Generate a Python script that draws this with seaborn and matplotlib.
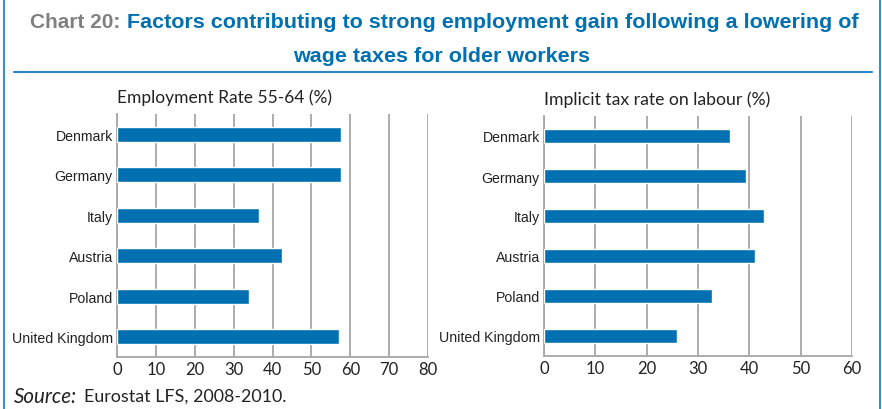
'''Chart 20: employment rate and implicit tax rate on labour for older workers'''
import pandas as pd
import seaborn as sns
import matplotlib.pyplot as plt
from matplotlib.lines import Line2D

countries = ['Denmark', 'Germany', 'Italy', 'Austria', 'Poland', 'United Kingdom']
employment_rate = [57.7, 57.7, 36.6, 42.5, 34.0, 57.2]
implicit_tax = [36.3, 39.3, 42.8, 41.2, 32.8, 26.0]

BLUE = '#0070b0'
GRID = '#a6a6a6'
NARROW = ['Liberation Sans', 'DejaVu Sans']

sns.set_style('white')
plt.rcParams['font.family'] = ['Lato', 'DejaVu Sans']

df = pd.DataFrame({'country': countries, 'emp': employment_rate, 'tax': implicit_tax})

fig = plt.figure(figsize=(8.82, 4.10), dpi=100)
W, H = 882, 410
renderer = fig.canvas.get_renderer()


def fit_width(txt, width_px):
    # shrink/grow a text so it spans the given pixel width
    w = txt.get_window_extent(renderer=renderer).width
    txt.set_fontsize(txt.get_fontsize() * width_px / w)


# axes placed in pixel terms of the 882x410 canvas
ax1 = fig.add_axes([117 / W, 1 - 358 / H, (428 - 117) / W, (358 - 115) / H])
ax2 = fig.add_axes([544 / W, 1 - 357 / H, (852 - 544) / W, (357 - 117) / H])

panels = [
    (ax1, 'emp', 'Employment Rate 55-64 (%)', 80, 214),
    (ax2, 'tax', 'Implicit tax rate on labour (%)', 60, 226),
]
for ax, col, title, xmax, tw in panels:
    sns.barplot(data=df, x=col, y='country', orient='h', color=BLUE,
                width=0.36, saturation=1, ax=ax, zorder=3)
    ax.set_xlim(0, xmax)
    ax.set_xticks(range(0, xmax + 1, 10))
    ax.set_xlabel('')
    ax.set_ylabel('')
    ax.grid(True, axis='x', color=GRID, linewidth=1.3, zorder=0)
    ax.set_axisbelow(True)
    for s in ['top', 'right']:
        ax.spines[s].set_visible(False)
    for s in ['left', 'bottom']:
        ax.spines[s].set_color(GRID)
        ax.spines[s].set_linewidth(1.3)
    ax.tick_params(axis='both', length=0)
    ax.tick_params(axis='x', labelsize=12, colors='#222222', pad=3)
    ax.tick_params(axis='y', pad=3)
    for lab in ax.get_yticklabels():
        lab.set_family(NARROW)
        lab.set_fontsize(10.2)
        lab.set_color('#222222')
    t = ax.set_title(title, loc='left', fontsize=12, color='#222222', pad=9)
    fit_width(t, tw)

# frame and title
fig.add_artist(Line2D([3.5 / W, 3.5 / W], [0, 1], color='#3a8fcc', lw=1.5))
fig.add_artist(Line2D([879.5 / W, 879.5 / W], [0, 1], color='#3a8fcc', lw=1.5))
fig.add_artist(Line2D([14 / W, 872 / W], [1 - 72.5 / H, 1 - 72.5 / H], color='#2a86c8', lw=1.5))

t1 = fig.text(30 / W, 1 - 23 / H, 'Chart 20:', ha='left', va='center', fontsize=14,
              fontweight='bold', color='#808080', family=NARROW)
fit_width(t1, 90)
t2 = fig.text(127 / W, 1 - 23 / H, 'Factors contributing to strong employment gain following a lowering of',
              ha='left', va='center', fontsize=14, fontweight='bold', color=BLUE, family=NARROW)
fit_width(t2, 730)
fig.text(442 / W, 1 - 56 / H, 'wage taxes for older workers', ha='center', va='center',
         fontsize=t2.get_fontsize(), fontweight='bold', color=BLUE, family=NARROW)

s1 = fig.text(14 / W, 1 - 397 / H, 'Source:', ha='left', va='center', fontsize=12,
              style='italic', color='#222222')
fit_width(s1, 63)
s2 = fig.text(84 / W, 1 - 397 / H, 'Eurostat LFS, 2008-2010.', ha='left', va='center',
              fontsize=12, color='#222222')
fit_width(s2, 202)

fig.savefig('out.png', dpi=100)
